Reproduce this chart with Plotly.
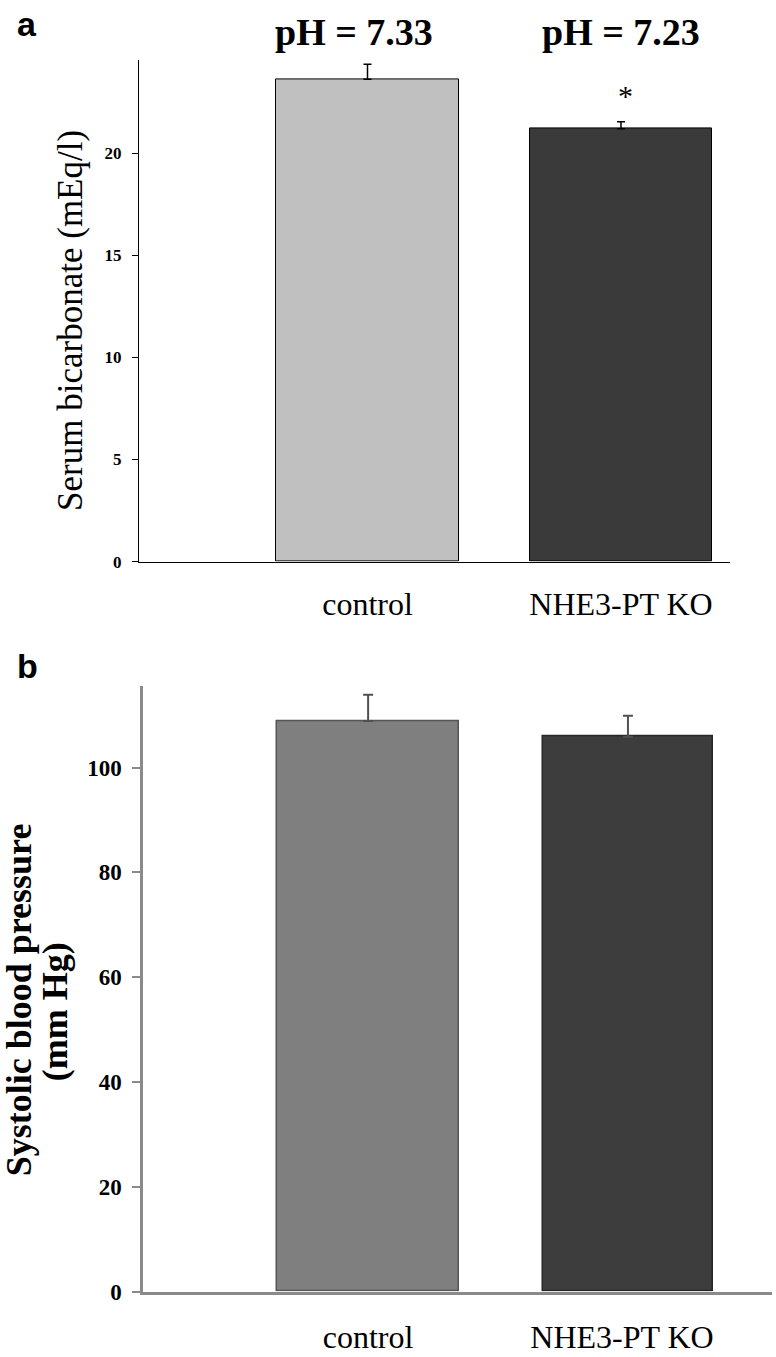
import plotly.graph_objects as go

W, H = 776, 1357

categories = ["control", "NHE3-PT KO"]
bicarb = [23.64, 21.21]
bicarb_err = [0.73, 0.34]
ph_labels = ["pH = 7.33", "pH = 7.23"]
sbp = [108.9, 105.9]
sbp_err = [5.0, 4.0]
yticks_a = [0, 5, 10, 15, 20]
yticks_b = [0, 20, 40, 60, 80, 100]


def px_x(p):
    return min(max(p / W, 0), 1)


def px_y(p):
    return min(max(1 - p / H, 0), 1)


serif = "Liberation Serif, Times New Roman, serif"
sans = "Liberation Sans, Arial, sans-serif"

fig = go.Figure()

fig.add_trace(go.Bar(
    x=[1, 2], y=bicarb, width=0.72,
    marker=dict(color=["#c0c0c0", "#3a3a3a"], line=dict(color="#000000", width=1)),
    error_y=dict(type="data", array=bicarb_err, symmetric=False, arrayminus=[0, 0],
                 color="#000000", thickness=1.5, width=4),
    xaxis="x", yaxis="y", showlegend=False,
))

fig.add_trace(go.Bar(
    x=[1, 2], y=sbp, width=[0.717, 0.669], offset=[-0.358, -0.311],
    marker=dict(color=["#7f7f7f", "#3d3d3d"], line=dict(color=["#555555", "#262626"], width=1.5)),
    error_y=dict(type="data", array=sbp_err, symmetric=False, arrayminus=[0, 0],
                 color="#505050", thickness=2, width=5),
    xaxis="x2", yaxis="y2", showlegend=False,
))

fig.update_layout(
    width=W, height=H,
    margin=dict(l=0, r=0, t=0, b=0),
    paper_bgcolor="white", plot_bgcolor="white",
    bargap=0,
    xaxis=dict(
        domain=[px_x(139), px_x(730)], range=[0.0986, 2.430],
        tickvals=[1, 2], ticktext=categories, ticks="",
        showline=True, linecolor="#000000", linewidth=1,
        showgrid=False, zeroline=False, anchor="y",
        tickfont=dict(family=serif, size=32, color="#000000"),
        ticklabelstandoff=14,
    ),
    yaxis=dict(
        domain=[px_y(567), px_y(61)], range=[0, 24.56],
        tickvals=yticks_a, ticktext=[str(v) for v in yticks_a],
        ticks="outside", ticklen=6, tickwidth=1, tickcolor="#000000",
        showline=True, linecolor="#000000", linewidth=1,
        showgrid=False, zeroline=False, anchor="x",
        tickfont=dict(family=serif, size=17, color="#000000", weight="bold"),
        ticklabelstandoff=7,
    ),
    xaxis2=dict(
        domain=[px_x(143), px_x(772)], range=[0.1142, 2.5906],
        tickvals=[1, 2], ticktext=categories, ticks="",
        showline=True, linecolor="#8a8a8a", linewidth=3,
        showgrid=False, zeroline=False, anchor="y2",
        tickfont=dict(family=serif, size=32, color="#000000"),
        ticklabelstandoff=15,
    ),
    yaxis2=dict(
        domain=[px_y(1304), px_y(693)], range=[0, 115.5],
        tickvals=yticks_b, ticktext=[str(v) for v in yticks_b],
        ticks="outside", ticklen=8, tickwidth=2, tickcolor="#8a8a8a",
        showline=True, linecolor="#8a8a8a", linewidth=2.5,
        showgrid=False, zeroline=False, anchor="x2",
        tickfont=dict(family=serif, size=23, color="#000000", weight="bold"),
        ticklabelstandoff=6,
    ),
)

ann = []
# panel letters
ann.append(dict(text="<b>a</b>", x=px_x(27), y=px_y(24), xref="paper", yref="paper",
                xanchor="center", yanchor="middle", showarrow=False,
                font=dict(family=sans, size=34, color="#000000")))
ann.append(dict(text="<b>b</b>", x=px_x(28), y=px_y(672), xref="paper", yref="paper",
                xanchor="center", yanchor="middle", showarrow=False,
                font=dict(family=sans, size=34, color="#000000")))
# pH labels
for txt, cx in zip(ph_labels, [354, 621]):
    ann.append(dict(text="<b>" + txt + "</b>", x=px_x(cx), y=px_y(32), xref="paper", yref="paper",
                    xanchor="center", yanchor="middle", showarrow=False,
                    font=dict(family=serif, size=38, color="#000000")))
# significance star
ann.append(dict(text="*", x=px_x(625), y=px_y(96), xref="paper", yref="paper",
                xanchor="center", yanchor="middle", showarrow=False,
                font=dict(family=serif, size=30, color="#000000")))
# y titles
ann.append(dict(text="Serum bicarbonate (mEq/l)", x=px_x(71), y=px_y(324), xref="paper", yref="paper",
                xanchor="center", yanchor="middle", showarrow=False, textangle=-90,
                font=dict(family=serif, size=35, color="#000000")))
ann.append(dict(text="<b>Systolic blood pressure</b>", x=px_x(0), y=px_y(1010), xref="paper", yref="paper",
                xanchor="left", yanchor="middle", showarrow=False, textangle=-90, xshift=-3,
                font=dict(family=serif, size=36, color="#000000")))
ann.append(dict(text="<b>(mm Hg)</b>", x=px_x(55), y=px_y(1022), xref="paper", yref="paper",
                xanchor="center", yanchor="middle", showarrow=False, textangle=-90,
                font=dict(family=serif, size=36, color="#000000")))
fig.update_layout(annotations=ann)

fig.write_html(
    "out.html",
    config={"displayModeBar": False},
    post_script="document.documentElement.style.margin='0';document.body.style.margin='0';"
                "document.body.style.padding='0';document.body.style.overflow='hidden';",
)
